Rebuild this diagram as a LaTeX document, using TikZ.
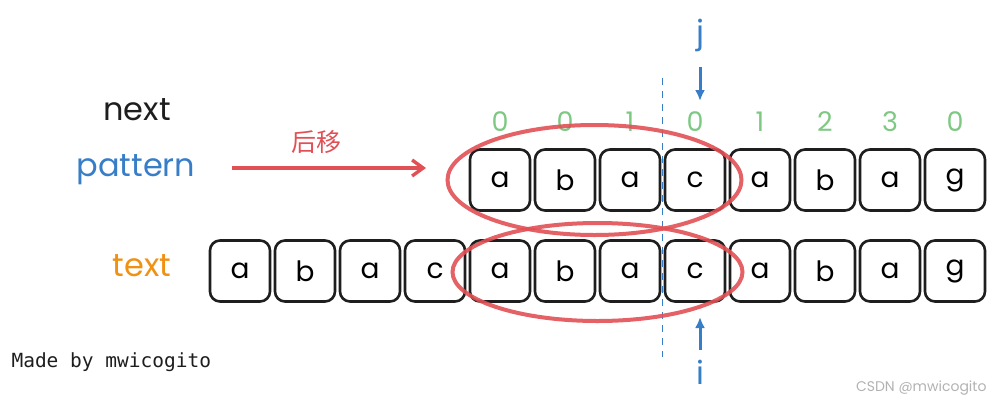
\documentclass[tikz,border=0pt]{standalone}
\usepackage{fontspec}
\setmainfont{Poppins}
\setmonofont{DejaVu Sans Mono}
\newfontfamily\cjk{Noto Sans CJK SC}
\usetikzlibrary{arrows.meta,positioning,calc}
\definecolor{ptncol}{RGB}{55,125,200}
\definecolor{txtcol}{RGB}{240,145,20}
\definecolor{nextcol}{RGB}{125,200,130}
\definecolor{matchcol}{RGB}{225,80,85}
\definecolor{inkcol}{RGB}{30,30,30}
\newcommand{\fs}[1]{\fontsize{#1}{#1}\selectfont}
\tikzset{
  cell/.style={draw=inkcol,line width=2.6pt,rounded corners=10pt,minimum width=60pt,
               minimum height=61pt,inner sep=0pt,font=\fs{28}},
  rowlbl/.style={font=\fs{32},inner sep=0pt},
  nextnum/.style={font=\fs{27},text=nextcol,inner sep=0pt},
  ptr/.style={font=\fs{32},text=ptncol,inner sep=0pt},
  ptrarrow/.style={-{Latex[length=11pt,width=10pt]},draw=ptncol,line width=3pt},
  movearrow/.style={-{Straight Barb[length=11pt,width=16pt]},draw=matchcol,line width=3.4pt},
  match/.style={draw=matchcol,line width=4pt,opacity=.9},
  cut/.style={draw=ptncol,line width=1.7pt,dash pattern=on 7pt off 6pt},
}

\begin{document}
\begin{tikzpicture}[x=1pt,y=-1pt]
  \useasboundingbox (0,0) rectangle (997,408);
  % rows of cells
  \foreach \ch [count=\k] in {a,b,a,c,a,b,a,g}
    \node[cell] (p\k) at ({500+65*(\k-1)},180) {\ch};
  \foreach \ch [count=\k] in {a,b,a,c,a,b,a,c,a,b,a,g}
    \node[cell] (t\k) at ({240+65*(\k-1)},271) {\ch};
  \foreach \v [count=\k] in {0,0,1,0,1,2,3,0}
    \node[nextnum] (n\k) at ({500+65*(\k-1)},122) {\v};
  % row names
  \node[rowlbl,text=inkcol] (nextlbl) at (137,110) {next};
  \node[rowlbl,text=ptncol] (ptnlbl) at (136,170) {pattern};
  \node[rowlbl,text=txtcol] (txtlbl) at (142,266) {text};
  % shift arrow
  \coordinate (sfrom) at (232,168);
  \coordinate (sto) at (426,168);
  \draw[movearrow] (sfrom) to node[above=9pt,xshift=-13pt,font=\cjk\fs{25},text=matchcol]{后移} (sto);
  % pointers
  \node[ptr] (jlbl) at (700,35) {j};
  \coordinate (jtip) at (700,101);
  \draw[ptrarrow] (700,67) -- (jtip);
  \node[ptr] (ilbl) at (700,372) {i};
  \coordinate (itip) at (700,317);
  \draw[ptrarrow] (700,350) -- (itip);
  % mismatch boundary
  \coordinate (cuttop) at ($(p3.east)!0.5!(p4.west)+(0,-102)$);
  \coordinate (cutbot) at ($(t7.east)!0.5!(t8.west)+(0,86)$);
  \draw[cut] (cuttop) -- (cutbot);
  % matched prefix / suffix
  \draw[match] ($(p1.west)!0.5!(p4.east)+(-3,0)$) ellipse [x radius=147pt,y radius=55pt];
  \draw[match] ($(t5.west)!0.5!(t8.east)+(0,1)$) ellipse [x radius=145pt,y radius=49pt];
  % credits
  \node[font=\ttfamily\fs{19.5},anchor=west,text=inkcol] (made) at (8,362) {Made by mwicogito};
  \node[font=\fs{14},text=black!30,anchor=east] (mark) at (990,388) {CSDN @mwicogito};
\end{tikzpicture}
\end{document}
